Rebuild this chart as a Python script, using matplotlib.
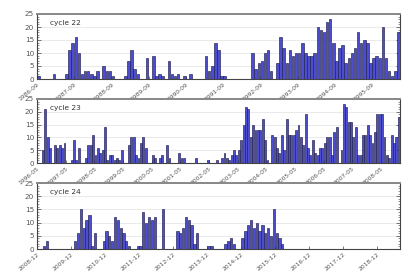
import matplotlib
matplotlib.use("Agg")
import matplotlib.pyplot as plt
from matplotlib.ticker import MultipleLocator, FixedLocator
import numpy as np

# Monthly values, one list per solar cycle
cycle22_values = [
    1, 0, 0, 0, 0, 2, 0, 0, 0, 2,
    11, 14, 16, 10, 2, 3, 3, 2, 1, 3,
    0, 5, 3, 3, 1, 0, 0, 0, 1, 7,
    11, 4, 2, 0, 0, 8, 0, 9, 1, 2,
    1, 0, 7, 2, 1, 2, 0, 1, 0, 2,
    0, 0, 0, 0, 9, 3, 5, 14, 11, 1,
    1, 0, 0, 0, 0, 0, 0, 0, 0, 10,
    4, 6, 7, 10, 11, 3, 0, 6, 16, 12,
    6, 11, 9, 10, 10, 14, 10, 9, 9, 10,
    20, 19, 18, 22, 23, 14, 7, 12, 13, 6,
    8, 10, 12, 18, 14, 15, 14, 6, 8, 9,
    8, 20, 8, 3, 1, 3, 18,
]
cycle23_values = [
    0, 0, 5, 21, 10, 6, 0, 7, 6, 7,
    6, 8, 0, 0, 1, 9, 1, 6, 0, 0,
    2, 7, 7, 11, 3, 6, 4, 5, 14, 1,
    3, 3, 1, 2, 1, 5, 0, 0, 7, 10,
    10, 3, 2, 8, 10, 6, 0, 0, 3, 2,
    0, 2, 3, 0, 7, 2, 0, 0, 0, 4,
    2, 2, 0, 0, 0, 0, 2, 0, 0, 0,
    0, 1, 0, 0, 0, 1, 0, 2, 4, 2,
    1, 3, 5, 3, 5, 9, 15, 22, 21, 10,
    15, 13, 13, 13, 17, 9, 1, 0, 11, 10,
    6, 4, 11, 5, 17, 11, 11, 11, 13, 15,
    10, 7, 19, 6, 3, 9, 4, 3, 6, 6,
    8, 10, 10, 3, 12, 14, 0, 5, 23, 22,
    16, 16, 10, 14, 3, 3, 11, 11, 15, 11,
    8, 12, 19, 19, 19, 10, 3, 2, 11, 8,
    10, 18,
]
cycle24_values = [
    0, 0, 1, 3, 0, 0, 0, 0, 0, 0,
    0, 0, 0, 3, 6, 15, 8, 11, 13, 1,
    6, 0, 0, 3, 7, 5, 3, 12, 11, 8,
    6, 3, 1, 0, 0, 1, 1, 14, 10, 12,
    11, 12, 0, 0, 15, 0, 0, 0, 0, 7,
    6, 8, 12, 11, 9, 2, 6, 0, 0, 0,
    1, 1, 0, 0, 0, 0, 2, 3, 4, 2,
    0, 0, 4, 7, 9, 11, 8, 10, 7, 9,
    6, 8, 5, 15, 6, 4, 2, 0, 0, 0,
    0, 0, 0, 0, 0, 0, 0, 0, 0, 0,
    0, 0, 0, 0, 0, 0, 0, 0, 0, 0,
    0, 0, 0, 0, 0, 0, 0, 0, 0, 0,
    0, 0, 0, 0, 0, 0, 0, 0,
]

cycle22_ticks = ["1986-09", "1987-09", "1988-09", "1989-09", "1990-09",
                 "1991-09", "1992-09", "1993-09", "1994-09", "1995-09"]
cycle23_ticks = ["1996-05", "1997-05", "1998-05", "1999-05", "2000-05",
                 "2001-05", "2002-05", "2003-05", "2004-05", "2005-05",
                 "2006-05", "2007-05", "2008-05"]
cycle24_ticks = ["2008-12", "2009-12", "2010-12", "2011-12", "2012-12",
                 "2013-12", "2014-12", "2015-12", "2016-12", "2017-12",
                 "2018-12"]
cycle_names = ["cycle 22", "cycle 23", "cycle 24"]

fig = plt.figure(figsize=(4.18, 2.79), dpi=100)
fig.patch.set_facecolor("white")

left = 37 / 418
width = 363 / 418
panels = [
    (cycle22_values, cycle22_ticks, cycle_names[0], 14, 79),
    (cycle23_values, cycle23_ticks, cycle_names[1], 99, 163),
    (cycle24_values, cycle24_ticks, cycle_names[2], 183, 249),
]

for vals, ticks, name, top_px, bot_px in panels:
    bottom = 1 - bot_px / 279
    height = (bot_px - top_px) / 279
    ax = fig.add_axes([left, bottom, width, height])
    n = len(vals)
    x = np.arange(n) + 0.5
    ax.bar(x, vals, width=0.8, color="#4d4dd0", edgecolor="#202050",
           linewidth=0.45, zorder=3)
    ax.set_xlim(0, n)
    ax.set_ylim(0, 25)
    ax.set_yticks([0, 5, 10, 15, 20, 25])
    ax.yaxis.set_minor_locator(MultipleLocator(1))
    ax.grid(axis="y", color="#e2e2e2", linewidth=0.5, zorder=0)
    tick_pos = [12 * k for k in range(len(ticks))]
    ax.xaxis.set_major_locator(FixedLocator(tick_pos))
    ax.set_xticklabels(ticks, rotation=40, ha="right",
                       rotation_mode="anchor", fontsize=4.3, color="#555555")
    ax.tick_params(axis="y", which="major", labelsize=5.2, labelcolor="#555555",
                   direction="in", length=3, width=0.5, right=True,
                   color="#444444", pad=2)
    ax.tick_params(axis="y", which="minor", direction="in", length=1.5,
                   width=0.4, right=True, color="#444444")
    ax.tick_params(axis="x", which="major", direction="in", length=2,
                   width=0.5, color="#444444", pad=2)
    for s in ["left", "bottom", "right"]:
        ax.spines[s].set_color("#444444")
        ax.spines[s].set_linewidth(0.8)
    ax.spines["top"].set_color("#888888")
    ax.spines["top"].set_linewidth(1.4)
    ax.text(0.035, 0.86, name, transform=ax.transAxes, fontsize=5.3,
            color="#333333", va="center", ha="left", zorder=5)

fig.savefig("out.png", dpi=100, facecolor="white")
